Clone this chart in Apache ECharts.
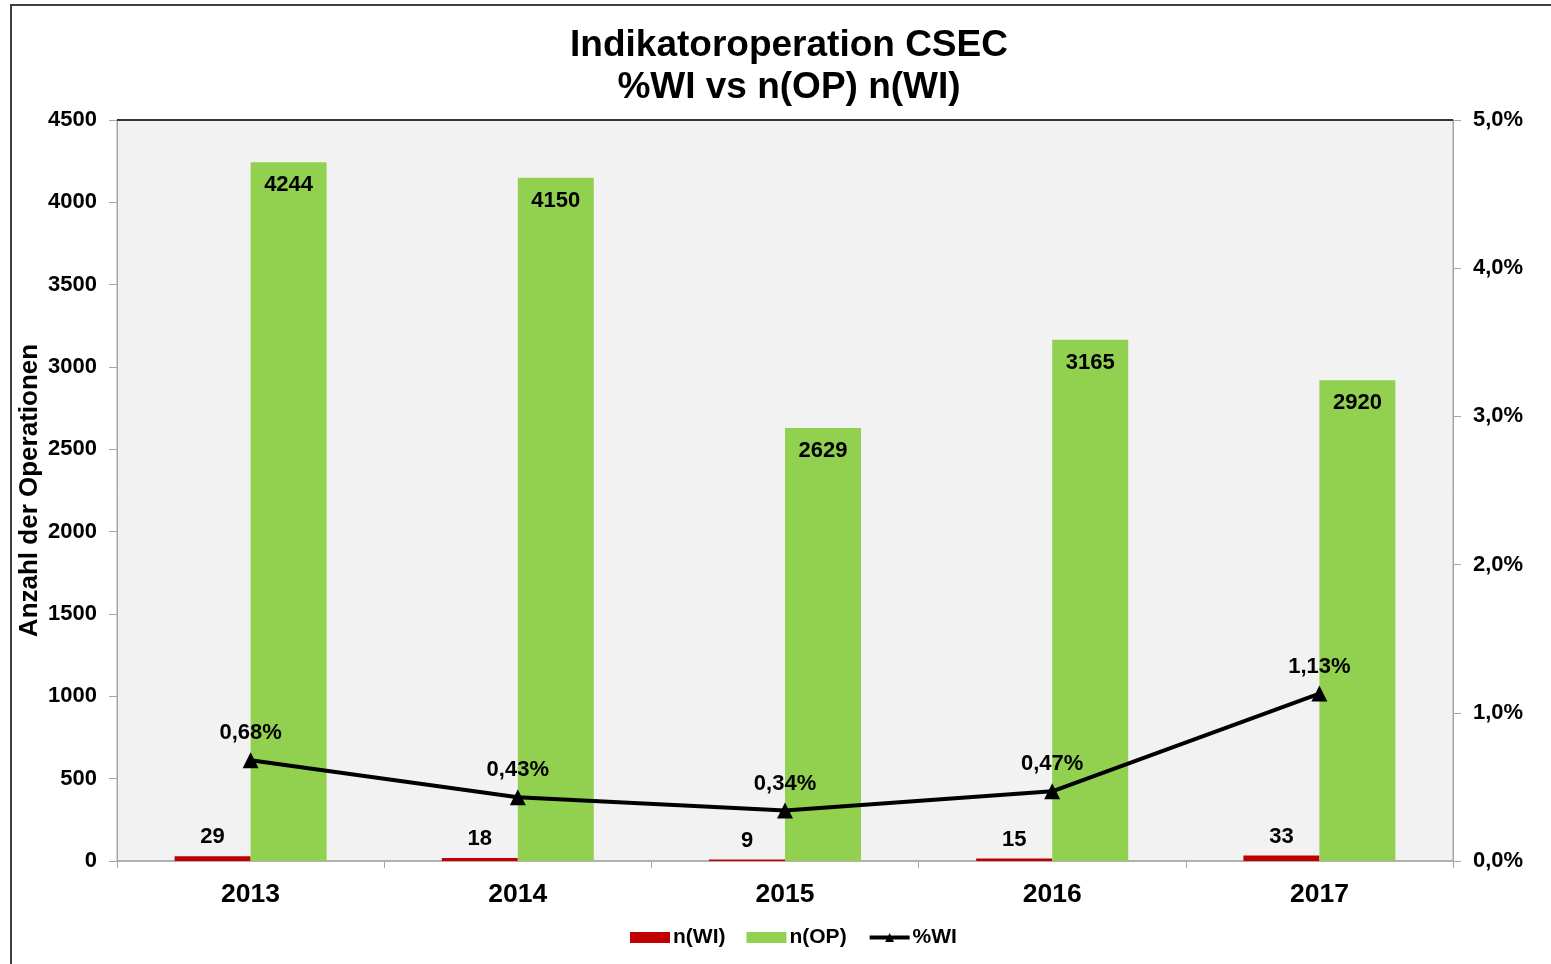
<!DOCTYPE html>
<html>
<head>
<meta charset="utf-8">
<script src="https://cdn.jsdelivr.net/npm/echarts@6/dist/echarts.min.js"></script>
<style>html,body{margin:0;padding:0;background:#fff;}#c{width:1551px;height:964px;}</style>
</head>
<body>
<div id="c"></div>
<script>
var categories = ['2013', '2014', '2015', '2016', '2017'];
var nWI = [29, 18, 9, 15, 33];
var nOP = [4244, 4150, 2629, 3165, 2920];
var pctWI = [0.68, 0.43, 0.34, 0.47, 1.13];
var leftTicks = {min: 0, max: 4500, interval: 500};
var rightTicks = {min: 0, max: 5, interval: 1};

var FONT = '"Liberation Sans", Arial, sans-serif';
var chart = echarts.init(document.getElementById('c'), null, {renderer: 'canvas'});
function comma(v, d) { return v.toFixed(d).replace('.', ','); }
var option = {
  animation: false,
  textStyle: {fontFamily: FONT},
  title: {
    text: 'Indikatoroperation CSEC\n%WI vs n(OP) n(WI)',
    left: 784, top: 20, textAlign: 'center',
    textStyle: {fontFamily: FONT, fontWeight: 'bold', fontSize: 37, lineHeight: 42, color: '#000'}
  },
  graphic: [
    {type: 'rect', shape: {x: 11, y: 5, width: 1550, height: 1000}, style: {fill: 'none', stroke: '#404040', lineWidth: 2}, z: 100},
    {type: 'line', shape: {x1: 117, y1: 120, x2: 1453, y2: 120}, style: {stroke: '#000', lineWidth: 1.5}, z: 100}
  ],
  legend: {
    bottom: 11, left: 625,
    itemWidth: 40, itemHeight: 11, itemGap: 21,
    textStyle: {fontFamily: FONT, fontWeight: 'bold', fontSize: 21, color: '#000', padding: [0, 0, 0, -2]},
    data: [
      {name: 'n(WI)', icon: 'rect'},
      {name: 'n(OP)', icon: 'rect'},
      {name: '%WI', lineStyle: {width: 4, color: '#000'}, itemStyle: {color: '#000'}}
    ]
  },
  grid: {left: 117, right: 98, top: 120, bottom: 103, show: true, backgroundColor: '#f2f2f2', borderColor: '#a6a6a6', borderWidth: 1},
  xAxis: {
    type: 'category', data: categories,
    axisLine: {lineStyle: {color: '#a6a6a6', width: 1.5}},
    axisTick: {show: true, length: 7, lineStyle: {color: '#a6a6a6'}},
    axisLabel: {fontFamily: FONT, fontWeight: 'bold', fontSize: 26.5, color: '#000', margin: 20}
  },
  yAxis: [
    {
      type: 'value', min: leftTicks.min, max: leftTicks.max, interval: leftTicks.interval,
      name: 'Anzahl der Operationen', nameLocation: 'middle', nameGap: 74, nameRotate: 90,
      nameMoveOverlap: false,
      nameTextStyle: {fontFamily: FONT, fontWeight: 'bold', fontSize: 26, color: '#000'},
      axisLine: {show: true, lineStyle: {color: '#a6a6a6'}},
      axisTick: {show: true, length: 8, lineStyle: {color: '#a6a6a6'}},
      splitLine: {show: false},
      axisLabel: {fontFamily: FONT, fontWeight: 'bold', fontSize: 22, color: '#000', margin: 20,
        formatter: function (v) { return String(v); }}
    },
    {
      type: 'value', min: rightTicks.min, max: rightTicks.max, interval: rightTicks.interval, position: 'right',
      axisLine: {show: true, lineStyle: {color: '#a6a6a6'}},
      axisTick: {show: true, length: 8, lineStyle: {color: '#a6a6a6'}},
      splitLine: {show: false},
      axisLabel: {fontFamily: FONT, fontWeight: 'bold', fontSize: 22, color: '#000', margin: 20,
        formatter: function (v) { return comma(v, 1) + '%'; }}
    }
  ],
  series: [
    {
      name: 'n(WI)', type: 'bar', data: nWI, yAxisIndex: 0,
      barWidth: 76, barGap: '0%',
      itemStyle: {color: '#c00000'},
      label: {show: true, position: 'top', distance: 8, fontFamily: FONT, fontWeight: 'bold', fontSize: 22, color: '#000'}
    },
    {
      name: 'n(OP)', type: 'bar', data: nOP, yAxisIndex: 0,
      barWidth: 76, barGap: '0%',
      itemStyle: {color: '#92d050'},
      label: {show: true, position: 'insideTop', distance: 12, fontFamily: FONT, fontWeight: 'bold', fontSize: 22, color: '#000'}
    },
    {
      name: '%WI', type: 'line', data: pctWI, yAxisIndex: 1,
      symbol: 'triangle', symbolSize: 16, z: 5,
      lineStyle: {color: '#000', width: 4},
      itemStyle: {color: '#000'},
      label: {show: true, position: 'top', distance: 8, fontFamily: FONT, fontWeight: 'bold', fontSize: 22, color: '#000',
        formatter: function (p) { return comma(p.value, 2) + '%'; }}
    }
  ]
};
chart.setOption(option);
</script>
</body>
</html>
